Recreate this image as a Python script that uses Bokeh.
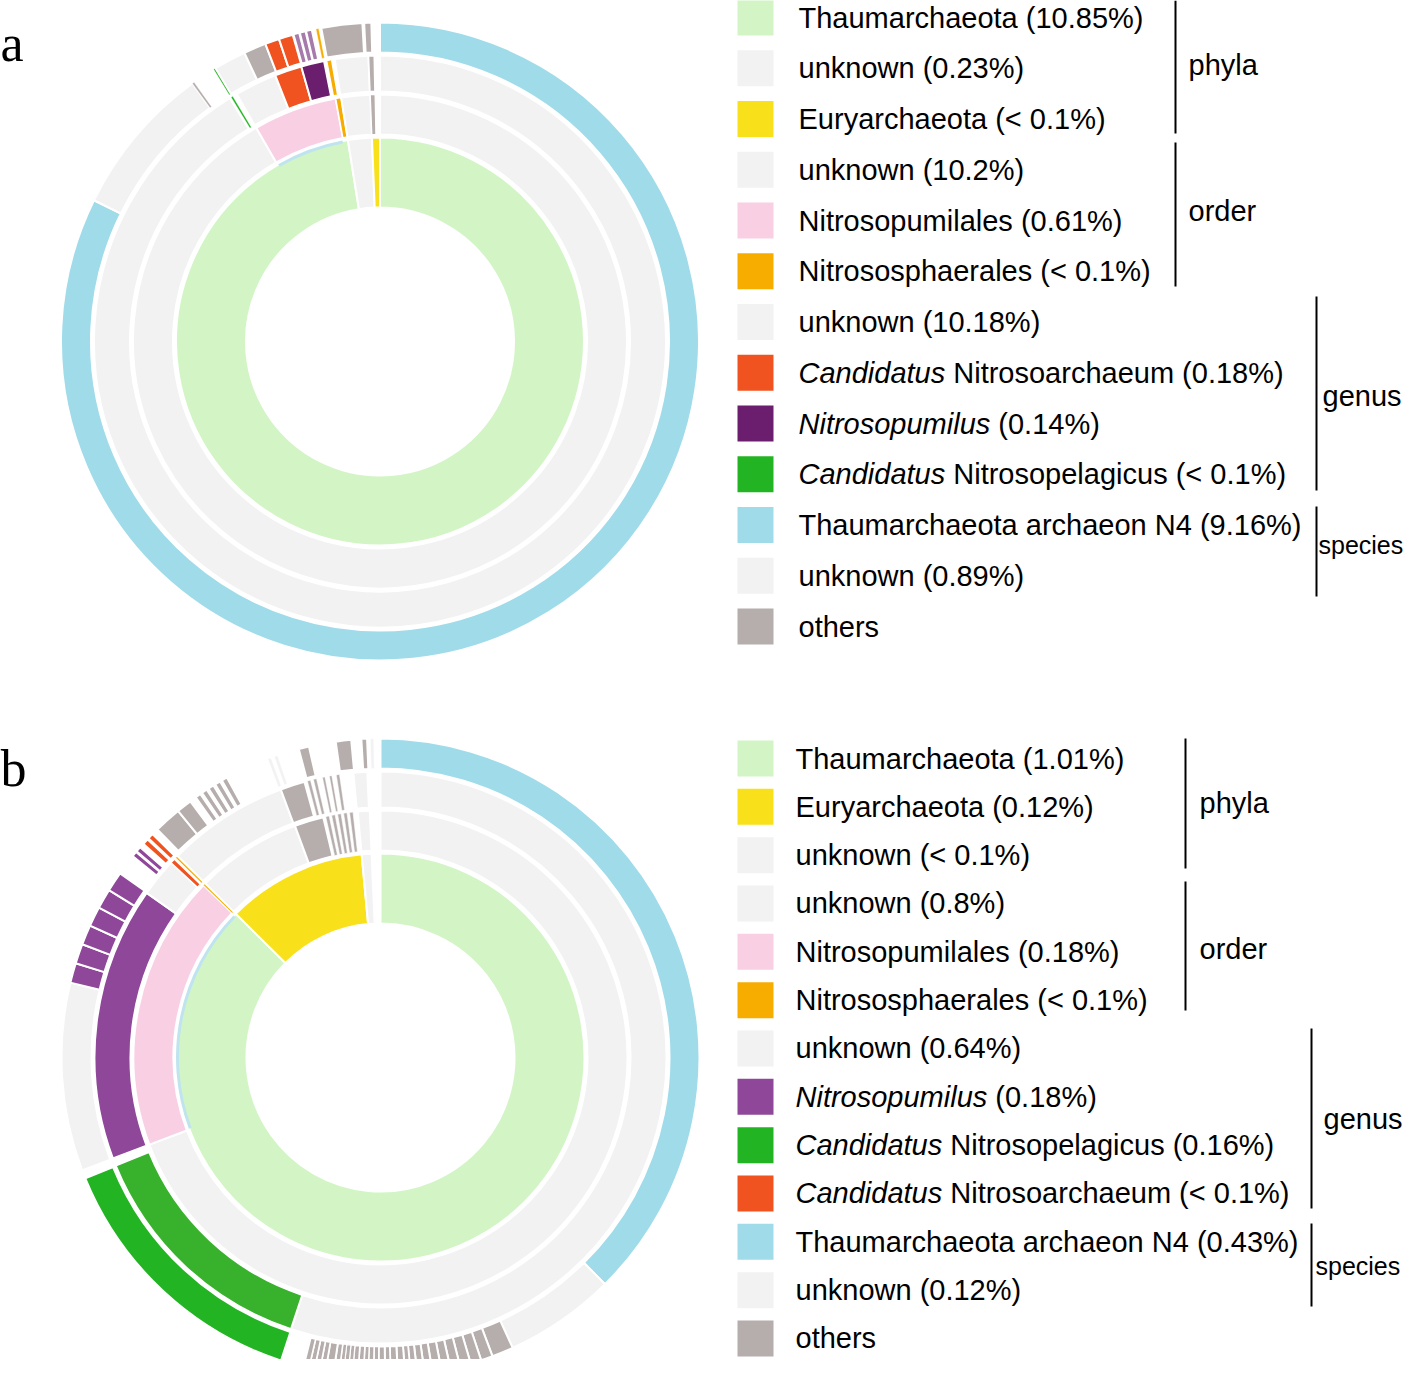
import numpy as np
from bokeh.plotting import figure
from bokeh.models import ColumnDataSource, Range1d
from bokeh.embed import file_html
from bokeh.resources import INLINE
from bokeh.core.properties import value

# ---------------- colours per category ----------------
COLORS = {
    "thaum": "#d3f5c6", "unknown": "#f3f2f3", "eury": "#f8e11a",
    "pumilales": "#f9cfe4", "sphaer": "#f7ad00", "narch": "#f0531f",
    "npum_a": "#6b1e6e", "npum_sp": "#a67aab", "npum_b": "#8f4799",
    "npel": "#22b423", "npel2": "#38b12c", "n4": "#a0dbea", "others": "#b6aeac",
}

# ---------------- panel a (values in % of reads) ----------------
a_phyla_cat = ["thaum", "unknown", "eury"]
a_phyla_val = [10.85, 0.21, 0.07]
a_order_cat = ["unknown", "pumilales", "sphaer", "unknown", "others", "gap"]
a_order_val = [10.20, 0.61, 0.04, 0.21, 0.035, 0.035]
a_genus_cat = ["unknown", "gap", "npel", "gap", "unknown", "narch", "npum_a", "gap",
               "sphaer", "gap", "unknown", "others"]
a_genus_val = [10.15, 0.01, 0.012, 0.028, 0.266, 0.17, 0.145, 0.017,
               0.03, 0.02, 0.21, 0.037]
a_species_cat = ["n4", "unknown", "others", "gap", "npel", "unknown", "others", "narch", "narch",
                 "gap", "npum_sp", "gap", "npum_sp", "gap", "npum_sp", "gap", "sphaer", "gap",
                 "others", "gap", "others"]
a_species_val = [9.16, 0.856, 0.012, 0.130, 0.012, 0.182, 0.127, 0.08, 0.08,
                 0.006, 0.03, 0.006, 0.03, 0.006, 0.03, 0.025, 0.015, 0.015,
                 0.23, 0.01, 0.04]

# ---------------- panel b ----------------
b_phyla_cat = ["thaum", "eury", "unknown", "gap"]
b_phyla_val = [1.01, 0.128, 0.009, 0.008]
b_order_cat = ["unknown", "pumilales", "sphaer", "unknown", "others",
               "gap", "others", "gap", "others", "gap", "others", "gap", "others", "gap", "others",
               "gap", "unknown", "gap"]
b_order_val = [0.8, 0.2082, 0.0018, 0.08, 0.022,
               0.0019, 0.0026, 0.0019, 0.0026, 0.0019, 0.0026, 0.0019, 0.0026, 0.0019, 0.0026,
               0.0035, 0.009, 0.008]
b_genus_cat = ["unknown", "npel2", "gap", "npum_b", "unknown", "narch", "gap", "sphaer", "gap",
               "unknown", "others", "gap", "others", "gap", "others", "gap", "others", "gap",
               "others", "gap", "others", "gap", "unknown", "gap"]
b_genus_val = [0.636, 0.159, 0.005, 0.179, 0.025, 0.003, 0.0013, 0.0013, 0.0004,
               0.0795, 0.016, 0.002, 0.002, 0.002, 0.002, 0.004, 0.0015, 0.003,
               0.0015, 0.003, 0.002, 0.009, 0.009, 0.008]
b_species_cat = (["n4", "unknown"] + ["others"] * 29 +
                 ["gap", "npel", "gap", "unknown",
                  "npum_b", "npum_b", "npum_b", "npum_b", "npum_b", "npum_b",
                  "gap", "npum_b", "gap", "npum_b", "gap", "narch", "gap", "narch", "gap",
                  "others", "others", "gap",
                  "others", "gap", "others", "gap", "others", "gap", "others", "gap", "others",
                  "gap", "unknown", "gap", "unknown", "gap", "others", "gap", "others",
                  "gap", "others", "gap", "unknown"])
b_species_val = ([0.434, 0.065,
                  0.0126, 0.0069, 0.0063, 0.0063, 0.0057, 0.0053, 0.0053, 0.0046, 0.0042, 0.0038,
                  0.0032, 0.0042, 0.0042, 0.0032, 0.0038, 0.0029, 0.0032, 0.0027, 0.0032, 0.0032,
                  0.0025, 0.0027, 0.0025, 0.0032, 0.0048, 0.0032, 0.0032, 0.0032, 0.0032] +
                 [0.0135, 0.159, 0.005, 0.110,
                  0.0116, 0.0116, 0.0116, 0.0116, 0.0116, 0.0116,
                  0.0125, 0.0026, 0.001, 0.0026, 0.003, 0.0035, 0.001, 0.003, 0.004,
                  0.016, 0.009, 0.004,
                  0.003, 0.0015, 0.003, 0.0015, 0.003, 0.0015, 0.003, 0.0015, 0.003,
                  0.026, 0.002, 0.002, 0.002, 0.0128, 0.006, 0.0157, 0.009,
                  0.006, 0.003, 0.002, 0.002])

# ---------------- legends ----------------
a_leg_key = ["thaum", "unknown", "eury", "unknown", "pumilales", "sphaer", "unknown",
             "narch", "npum_a", "npel", "n4", "unknown", "others"]
a_leg_ital = ["", "", "", "", "", "", "", "Candidatus", "Nitrosopumilus", "Candidatus", "", "", ""]
a_leg_text = ["Thaumarchaeota (10.85%)", "unknown (0.23%)", "Euryarchaeota (< 0.1%)",
              "unknown (10.2%)", "Nitrosopumilales (0.61%)", "Nitrososphaerales (< 0.1%)",
              "unknown (10.18%)", "Nitrosoarchaeum (0.18%)", "(0.14%)",
              "Nitrosopelagicus (< 0.1%)", "Thaumarchaeota archaeon N4 (9.16%)",
              "unknown (0.89%)", "others"]
b_leg_key = ["thaum", "eury", "unknown", "unknown", "pumilales", "sphaer", "unknown",
             "npum_b", "npel", "narch", "n4", "unknown", "others"]
b_leg_ital = ["", "", "", "", "", "", "", "Nitrosopumilus", "Candidatus", "Candidatus", "", "", ""]
b_leg_text = ["Thaumarchaeota (1.01%)", "Euryarchaeota (0.12%)", "unknown (< 0.1%)",
              "unknown (0.8%)", "Nitrosopumilales (0.18%)", "Nitrososphaerales (< 0.1%)",
              "unknown (0.64%)", "(0.18%)", "Nitrosopelagicus (0.16%)",
              "Nitrosoarchaeum (< 0.1%)", "Thaumarchaeota archaeon N4 (0.43%)",
              "unknown (0.12%)", "others"]
level_names = ["phyla", "order", "genus", "species"]

# ---------------- figure ----------------
W, H = 1404, 1359
p = figure(width=W, height=H, x_range=Range1d(0, W), y_range=Range1d(-H, 0),
           output_backend="svg", toolbar_location=None,
           x_axis_location=None, y_axis_location=None, min_border=0)
p.xgrid.visible = False
p.ygrid.visible = False
p.outline_line_color = None

RADII = [(134, 204), (207, 247), (250, 286), (289, 319)]


def sunburst(rings, cx, cy):
    total = float(sum(rings[0][1]))
    d = dict(x=[], y=[], ri=[], ro=[], sa=[], ea=[], color=[], lw=[])
    pink = None
    for level, ((cats, vals), (ri, ro)) in enumerate(zip(rings, RADII)):
        cum = np.concatenate([[0.0], np.cumsum(vals)])
        for i, c in enumerate(cats):
            if c == "gap":
                continue
            t0 = cum[i] / total * 2 * np.pi
            t1 = cum[i + 1] / total * 2 * np.pi
            seg = (t1 - t0) * (ri + ro) / 2
            lw = 2.0 if seg >= 6 else max(0.4, (seg - 2) / 2)
            d["x"].append(cx); d["y"].append(cy)
            d["ri"].append(ri); d["ro"].append(ro)
            d["sa"].append(np.pi / 2 - t0); d["ea"].append(np.pi / 2 - t1)
            d["color"].append(COLORS[c]); d["lw"].append(lw)
            if c == "pumilales" and level == 1:
                pink = (t0, t1)
    p.annular_wedge(x="x", y="y", inner_radius="ri", outer_radius="ro",
                    start_angle="sa", end_angle="ea", direction="clock",
                    fill_color="color", line_color="white", line_width="lw",
                    source=ColumnDataSource(d))
    if pink is not None:
        p.annular_wedge(x=[cx], y=[cy], inner_radius=201.5, outer_radius=204.5,
                        start_angle=np.pi / 2 - pink[0] - 0.004,
                        end_angle=np.pi / 2 - pink[1] + 0.004, direction="clock",
                        fill_color="#bfe4ef", line_color=None)


sunburst([(a_phyla_cat, a_phyla_val), (a_order_cat, a_order_val),
          (a_genus_cat, a_genus_val), (a_species_cat, a_species_val)], 379.5, -341)
sunburst([(b_phyla_cat, b_phyla_val), (b_order_cat, b_order_val),
          (b_genus_cat, b_genus_val), (b_species_cat, b_species_val)], 380, -1057)

FONT = "Liberation Sans"
FS = 29
ARIAL_W = {'C': 722, 'a': 556, 'n': 556, 'd': 556, 'i': 222, 't': 278, 'u': 556, 's': 500,
           'N': 722, 'r': 333, 'o': 556, 'p': 556, 'm': 833, 'l': 222, ' ': 278}


def text_w(s, size):
    return sum(ARIAL_W.get(ch, 556) for ch in s) * size / 1000.0


def legend(keys, ital, texts, y0, dy, tx):
    ys = [y0 + i * dy for i in range(len(keys))]
    p.rect(x=[755] * len(keys), y=[-y for y in ys], width=36, height=36,
           fill_color=[COLORS[k] for k in keys], line_color=None)
    ix, iy, it, nx, ny, nt = [], [], [], [], [], []
    for y, s_it, s in zip(ys, ital, texts):
        x = tx
        if s_it:
            ix.append(tx); iy.append(-y); it.append(s_it)
            x = tx + text_w(s_it + " ", FS)
        nx.append(x); ny.append(-y); nt.append(s)
    p.text(x=nx, y=ny, text=nt, text_font=value(FONT), text_font_size=f"{FS}px",
           text_baseline="middle", text_align="left", text_color="black")
    p.text(x=ix, y=iy, text=it, text_font=value(FONT), text_font_size=f"{FS}px",
           text_font_style="italic", text_baseline="middle", text_align="left",
           text_color="black")


legend(a_leg_key, a_leg_ital, a_leg_text, 17, 50.75, 798)
legend(b_leg_key, b_leg_ital, b_leg_text, 758, 48.33, 795)

# level brackets (layout)
br_x = [1175, 1175, 1316, 1316, 1185, 1185, 1311, 1311]
br_y0 = [0, 142, 296, 506, 738, 881, 1028, 1223]
br_y1 = [133, 286, 490, 596, 868, 1010, 1208, 1306]
p.segment(x0=br_x, y0=[-v for v in br_y0], x1=br_x, y1=[-v for v in br_y1],
          line_color="black", line_width=2)
lab_x = [1188, 1188, 1322, 1318, 1199, 1199, 1323, 1315]
lab_y = [64, 210, 395, 544, 802, 948, 1118, 1265]
lab_t = level_names + level_names
p.text(x=lab_x[:3] + lab_x[4:7], y=[-v for v in lab_y[:3] + lab_y[4:7]],
       text=lab_t[:3] + lab_t[4:7], text_font=value(FONT), text_font_size=f"{FS}px",
       text_baseline="middle", text_align="left", text_color="black")
p.text(x=[lab_x[3], lab_x[7]], y=[-lab_y[3], -lab_y[7]], text=[lab_t[3], lab_t[7]],
       text_font=value(FONT), text_font_size="25px",
       text_baseline="middle", text_align="left", text_color="black")

# panel letters
p.text(x=[0, 0], y=[-43, -768], text=["a", "b"], text_font=value("Liberation Serif"),
       text_font_size="52px", text_baseline="alphabetic", text_align="left",
       text_color="black")

open("out.html", "w").write(file_html(p, INLINE))
